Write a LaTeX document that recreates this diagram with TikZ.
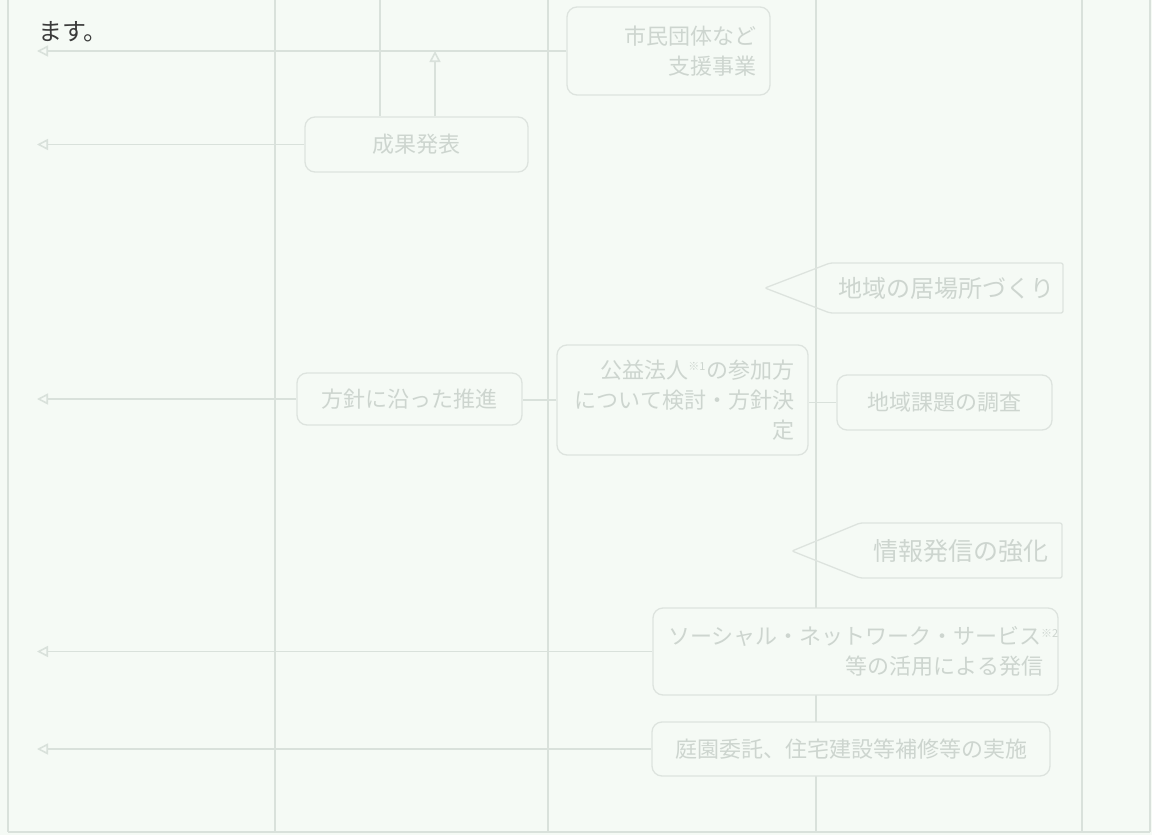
\documentclass[tikz,border=0pt]{standalone}
\usepackage{fontspec}
\newfontfamily\jp{Noto Sans CJK JP}
\usetikzlibrary{arrows.meta}
\definecolor{bg}{HTML}{F5FAF5}
\definecolor{lanec}{HTML}{D9E1DB}
\definecolor{boxline}{HTML}{DDE3DE}
\definecolor{boxtext}{HTML}{CDD5CF}
\definecolor{maintext}{HTML}{3A3A3A}
\begin{document}
\begin{tikzpicture}[x=1pt,y=-1pt,
  lanestyle/.style={draw=lanec, line width=1.3pt},
  conn/.style={draw=lanec, line width=1.6pt},
  arr/.style={conn, -{Triangle[open, length=11pt, width=11pt]}},
  rbox/.style={draw=boxline, line width=1.3pt, rounded corners=10pt, fill=bg,
    font=\jp\fontsize{22}{30}\selectfont, text=boxtext, inner sep=0pt},
  multibox/.style={rbox, align=right, inner xsep=14pt},
  pent/.style={draw=boxline, line width=1.3pt, rounded corners=2pt},
  penttext/.style={font=\jp\fontsize{24}{30}\selectfont, text=boxtext, inner sep=0pt},
]
\fill[bg] (0,0) rectangle (1152,835);
\useasboundingbox (0,0) rectangle (1152,835);

% lanes
\foreach \lx/\ln in {8/l0,275/l1,548/l2,816/l3,1082/l4,1150/l5}{
  \coordinate (\ln t) at (\lx,0);
  \coordinate (\ln b) at (\lx,832);
  \draw[lanestyle] (\ln t) -- (\ln b);
}
\coordinate (bl) at (8,832);
\coordinate (br) at (1150,832);
\draw[lanestyle] (bl) -- (br);

% top text
\node[anchor=west, font=\jp\fontsize{24}{28}\selectfont, text=maintext, inner sep=0pt] (mas) at (38,32) {ます。};

% connector end points
\coordinate (a1) at (37,51);
\coordinate (a2) at (37,144.5);
\coordinate (a3) at (37,399);
\coordinate (a4) at (37,651.5);
\coordinate (a5) at (37,749);
\coordinate (v1) at (380,0);
\coordinate (v2) at (435,51);

% boxes
\node[multibox, text width=175pt, minimum height=88pt] (top) at (668.5,51) {市民団体など\\支援事業};
\node[rbox, minimum width=223pt, minimum height=55pt] (seika) at (416.5,144.5) {成果発表};
\node[multibox, text width=223pt, minimum height=110pt] (kouhou) at (682.5,400) {公益法人\textsuperscript{\fontsize{11}{12}\selectfont ※1}の参加方\\について検討・方針決\\定};
\node[rbox, minimum width=225pt, minimum height=52pt] (houshin) at (409.5,399) {方針に沿った推進};
\node[rbox, minimum width=215pt, minimum height=55pt] (chiiki) at (944.5,402.5) {地域課題の調査};
\node[multibox, text width=375pt, minimum height=87pt, inner xsep=15pt] (sns) at (855.5,651.5) {ソーシャル・ネットワーク・サービス\textsuperscript{\fontsize{11}{12}\selectfont ※2}\\等の活用による発信};
\node[rbox, minimum width=398pt, minimum height=54pt] (teien) at (851,749) {庭園委託、住宅建設等補修等の実施};

% connectors
\draw[arr] (top.west) -- (a1);
\draw[arr] (seika.west) -- (a2);
\draw[conn] (v1) -- (v1 |- seika.north);
\draw[arr] (v2 |- seika.north) -- (v2);
\draw[conn] (chiiki.west) -- (chiiki.west -| kouhou.east);
\draw[conn] (kouhou.west) -- (kouhou.west -| houshin.east);
\draw[arr] (houshin.west) -- (a3);
\draw[arr] (sns.west) -- (a4);
\draw[arr] (teien.west) -- (a5);

% pentagons
\coordinate (p1tip) at (765,288);
\coordinate (p1a) at (830,263);
\coordinate (p1b) at (1063,263);
\coordinate (p1c) at (1063,313);
\coordinate (p1d) at (830,313);
\draw[pent] (p1tip) -- (p1a) -- (p1b) -- (p1c) -- (p1d) -- cycle;
\node[penttext] (pt1) at (946,288) {地域の居場所づくり};

\coordinate (p2tip) at (792,551);
\coordinate (p2a) at (860,523);
\coordinate (p2b) at (1062,523);
\coordinate (p2c) at (1062,578);
\coordinate (p2d) at (860,578);
\draw[pent] (p2tip) -- (p2a) -- (p2b) -- (p2c) -- (p2d) -- cycle;
\node[penttext, font=\jp\fontsize{25}{30}\selectfont] (pt2) at (961,551) {情報発信の強化};
\end{tikzpicture}
\end{document}
